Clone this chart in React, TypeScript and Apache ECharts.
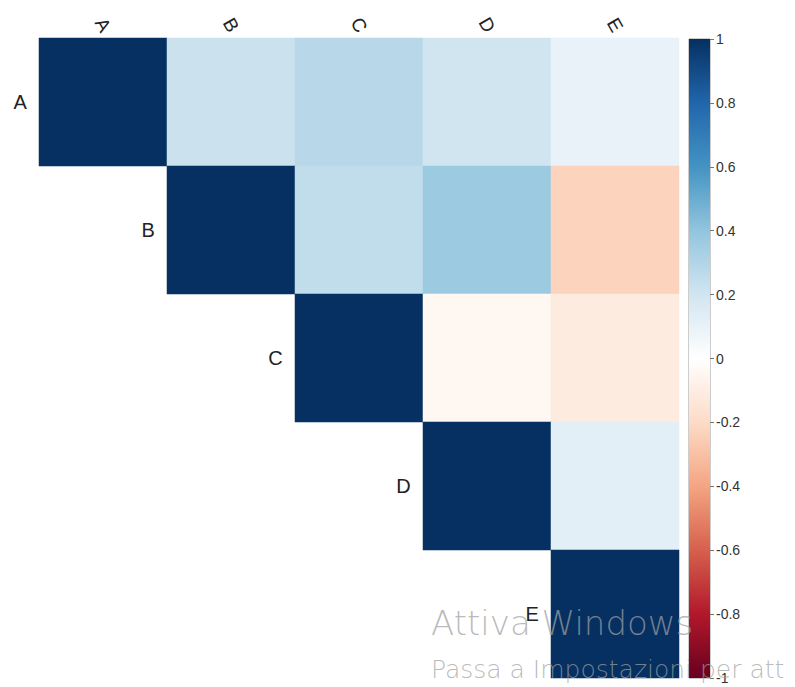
import React, { useEffect, useRef } from "react";
import * as echarts from "echarts";

// Variable names shared by rows and columns
const variables = ["A", "B", "C", "D", "E"];

// Correlation matrix, one row per variable
const rowA = [1, 0.22, 0.28, 0.2, 0.1];
const rowB = [0.22, 1, 0.25, 0.37, -0.23];
const rowC = [0.28, 0.25, 1, -0.045, -0.11];
const rowD = [0.2, 0.37, -0.045, 1, 0.12];
const rowE = [0.1, -0.23, -0.11, 0.12, 1];
const matrix = [rowA, rowB, rowC, rowD, rowE];

// RdBu diverging palette, from -1 to 1
const palette = [
  "#67001F", "#B2182B", "#D6604D", "#F4A582", "#FDDBC7", "#FFFFFF",
  "#D1E5F0", "#92C5DE", "#4393C3", "#2166AC", "#053061",
];

// Colour bar scale
const scaleMin = -1;
const scaleMax = 1;
const scaleStep = 0.2;

// Overlay lines drawn across the lower right corner
const overlayTitle = "Attiva Windows";
const overlaySubtitle = "Passa a Impostazioni per att";

const labelFont = "'Liberation Sans', Arial, sans-serif";
const overlayFont = "'DejaVu Sans', 'Noto Sans', sans-serif";

export default function App() {
  const ref = useRef<HTMLDivElement>(null);

  useEffect(() => {
    if (!ref.current) return;
    const chart = echarts.init(ref.current, null, { renderer: "svg" });

    // Upper triangle (diagonal included); diagonal cells carry the row name
    const cells: any[] = [];
    matrix.forEach((row, i) => {
      row.forEach((v, j) => {
        if (j < i) return;
        const item: any = { value: [j, i, v] };
        if (i === j) {
          item.label = {
            show: true,
            position: "left",
            distance: 12,
            formatter: variables[i],
            color: "#222",
            fontSize: 20,
            fontFamily: labelFont,
          };
        }
        cells.push(item);
      });
    });

    const upperStops = palette
      .slice(5)
      .reverse()
      .map((c, k) => ({ offset: k / 5, color: c }));
    const lowerStops = palette
      .slice(0, 6)
      .reverse()
      .map((c, k) => ({ offset: k / 5, color: c }));

    chart.setOption({
      animation: false,
      backgroundColor: "#ffffff",
      grid: [
        { left: 39, top: 38, width: 640, height: 640 },
        {
          left: 689,
          top: 39,
          width: 21,
          height: 639,
          show: true,
          borderColor: "#9a9a9a",
          borderWidth: 1,
          backgroundColor: "transparent",
        },
      ],
      xAxis: [
        {
          type: "category",
          data: variables,
          position: "top",
          gridIndex: 0,
          axisLine: { show: false },
          axisTick: { show: false },
          splitLine: { show: false },
          axisLabel: {
            rotate: 60,
            margin: 13,
            align: "center",
            verticalAlign: "middle",
            color: "#222",
            fontSize: 19,
            fontFamily: labelFont,
          },
        },
        {
          type: "category",
          data: [""],
          gridIndex: 1,
          show: false,
        },
      ],
      yAxis: [
        {
          type: "category",
          data: variables,
          inverse: true,
          gridIndex: 0,
          axisLine: { show: false },
          axisTick: { show: false },
          axisLabel: { show: false },
          splitLine: { show: false },
        },
        {
          type: "value",
          gridIndex: 1,
          min: scaleMin,
          max: scaleMax,
          interval: scaleStep,
          position: "right",
          axisLine: { show: false },
          splitLine: { show: false },
          axisTick: {
            show: true,
            length: 4,
            lineStyle: { color: "#777" },
          },
          axisLabel: {
            margin: 6,
            color: "#333",
            fontSize: 14,
            fontFamily: labelFont,
          },
        },
      ],
      visualMap: {
        type: "continuous",
        show: false,
        min: scaleMin,
        max: scaleMax,
        seriesIndex: 0,
        inRange: { color: palette },
      },
      series: [
        {
          type: "heatmap",
          xAxisIndex: 0,
          yAxisIndex: 0,
          data: cells,
          emphasis: { disabled: true },
        },
        {
          type: "bar",
          xAxisIndex: 1,
          yAxisIndex: 1,
          barWidth: "100%",
          barGap: "-100%",
          data: [scaleMax],
          itemStyle: {
            color: new echarts.graphic.LinearGradient(0, 0, 0, 1, upperStops),
          },
          silent: true,
        },
        {
          type: "bar",
          xAxisIndex: 1,
          yAxisIndex: 1,
          barWidth: "100%",
          barGap: "-100%",
          data: [scaleMin],
          itemStyle: {
            color: new echarts.graphic.LinearGradient(0, 0, 0, 1, lowerStops),
          },
          silent: true,
        },
      ],
      graphic: [
        {
          type: "text",
          left: 431,
          top: 606,
          z: 100,
          silent: true,
          style: {
            text: overlayTitle,
            fill: "rgba(160,160,160,0.72)",
            fontSize: 34,
            fontWeight: 200,
            fontFamily: overlayFont,
          },
        },
        {
          type: "text",
          left: 431,
          top: 657,
          z: 100,
          silent: true,
          style: {
            text: overlaySubtitle,
            fill: "rgba(160,160,160,0.72)",
            fontSize: 25,
            fontWeight: 200,
            fontFamily: overlayFont,
          },
        },
      ],
    });

    return () => chart.dispose();
  }, []);

  return (
    <div
      ref={ref}
      style={{ position: "absolute", left: 0, top: 0, width: 795, height: 687 }}
    />
  );
}
